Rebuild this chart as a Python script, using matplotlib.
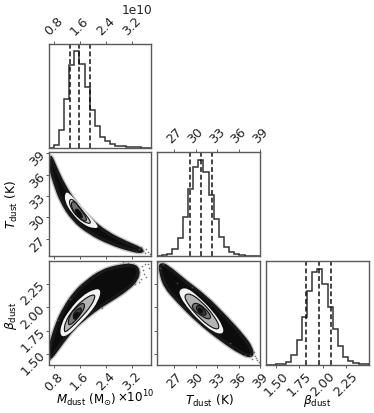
import matplotlib
matplotlib.use("Agg")
import matplotlib.pyplot as plt
import numpy as np
from matplotlib.path import Path
from matplotlib.patches import PathPatch

# ranges
m_range = (0.646, 3.815)
t_range = (24.6, 39.0)
b_range = (1.385, 2.497)
m_ticks = [0.8, 1.6, 2.4, 3.2]
t_ticks = [27, 30, 33, 36, 39]
b_ticks = [1.50, 1.75, 2.00, 2.25]
m_ticklabels = ["0.8", "1.6", "2.4", "3.2"]
t_ticklabels = ["27", "30", "33", "36", "39"]
b_ticklabels = ["1.50", "1.75", "2.00", "2.25"]

# histogram heights
m_hist = [0, 8, 50, 143, 242, 282, 245, 177, 111, 62, 32, 18, 9, 5, 3, 2, 1, 1, 0, 0]
t_hist = [0, 1, 3, 18, 51, 113, 196, 261, 281, 245, 178, 107, 55, 24, 10, 4, 1, 0, 0, 0]
b_hist = [0, 0, 1, 2, 8, 28, 72, 139, 217, 274, 280, 237, 169, 104, 54, 23, 11, 4, 2, 1]
m_quant = [1.298, 1.575, 1.923]
t_quant = [29.17, 30.71, 32.33]
b_quant = [1.82, 1.955, 2.085]

# M-T panel outlines (M / 1e10, T)
mt_outer_x = [0.687, 0.842, 1.099, 1.459, 1.922, 2.436, 3.054, 3.50, 3.52, 3.157, 2.539, 1.922, 1.407, 1.047, 0.842, 0.708]
mt_outer_y = [38.81, 37.17, 34.59, 32.01, 29.67, 27.79, 26.39, 25.55, 25.15, 25.45, 26.39, 27.79, 29.67, 32.25, 34.83, 36.94]
mt_white_x = [1.150, 1.253, 1.510, 1.819, 2.210, 2.076, 1.716, 1.356, 1.150]
mt_white_y = [33.42, 33.56, 32.25, 30.61, 28.73, 28.40, 28.96, 30.61, 32.25]
mt_light_x = [1.274, 1.407, 1.665, 1.973, 1.870, 1.562, 1.325]
mt_light_y = [32.48, 32.58, 31.07, 29.34, 29.06, 29.90, 31.31]
mt_mid_x = [1.335, 1.459, 1.613, 1.840, 1.768, 1.562, 1.377]
mt_mid_y = [32.15, 32.25, 31.31, 29.81, 29.34, 30.14, 31.07]
mt_core_x = [1.459, 1.593, 1.716, 1.613, 1.490]
mt_core_y = [31.22, 31.07, 29.98, 29.98, 30.61]
mt_out_x = [0.66, 0.70, 3.35, 3.50, 3.60, 3.72, 3.76, 3.42, 3.64, 3.55]
mt_out_y = [38.95, 38.3, 25.1, 25.9, 25.0, 25.2, 24.9, 25.6, 25.5, 25.3]

# M-beta panel outlines
mb_outer_x = [0.625, 0.708, 0.914, 1.140, 1.449, 1.809, 2.272, 2.786, 3.25, 3.42, 3.36, 3.10, 2.683, 2.220, 1.809, 1.397, 1.037, 0.780]
mb_outer_y = [1.432, 1.594, 1.828, 1.990, 2.152, 2.271, 2.386, 2.440, 2.455, 2.40, 2.30, 2.206, 2.105, 2.008, 1.900, 1.774, 1.612, 1.486]
mb_white_x = [0.996, 1.037, 1.294, 1.654, 2.066, 2.272, 2.169, 1.912, 1.603, 1.243]
mb_white_y = [1.684, 1.828, 1.972, 2.116, 2.199, 2.188, 2.062, 1.936, 1.828, 1.695]
mb_light_x = [1.119, 1.160, 1.397, 1.706, 2.015, 2.097, 1.943, 1.706, 1.449, 1.222]
mb_light_y = [1.731, 1.846, 1.972, 2.080, 2.141, 2.116, 2.008, 1.911, 1.817, 1.745]
mb_mid_x = [1.243, 1.294, 1.500, 1.706, 1.778, 1.654, 1.500, 1.325]
mb_mid_y = [1.817, 1.918, 1.997, 2.055, 2.008, 1.936, 1.864, 1.810]
mb_dark_x = [1.397, 1.428, 1.603, 1.675, 1.603, 1.469]
mb_dark_y = [1.882, 1.947, 1.997, 1.983, 1.918, 1.864]
mb_core_x = [1.428, 1.449, 1.572, 1.603, 1.500]
mb_core_y = [1.889, 1.936, 1.947, 1.925, 1.882]
mb_out_x = [3.55, 3.62, 3.70, 3.48, 3.42, 3.58, 3.66, 2.95, 3.10, 0.70, 0.95, 1.30, 1.60, 2.30, 3.52, 3.74, 3.30]
mb_out_y = [2.40, 2.46, 2.47, 2.30, 2.27, 2.36, 2.33, 2.485, 2.48, 1.45, 1.86, 2.09, 2.24, 1.99, 2.44, 2.42, 2.25]

# T-beta panel outlines
tb_outer_x = [25.05, 25.95, 28.51, 31.31, 34.11, 36.67, 37.75, 37.95, 36.44, 33.64, 30.38, 27.58, 25.72, 25.10]
tb_outer_y = [2.462, 2.445, 2.278, 2.116, 1.900, 1.684, 1.565, 1.470, 1.504, 1.648, 1.846, 2.062, 2.224, 2.386]
tb_white_x = [27.68, 28.75, 30.38, 32.48, 33.87, 33.87, 32.48, 30.38, 28.75, 27.82]
tb_white_y = [2.188, 2.213, 2.116, 1.954, 1.792, 1.709, 1.731, 1.864, 2.008, 2.116]
tb_light_x = [28.33, 29.21, 30.84, 32.48, 33.41, 32.94, 31.54, 30.15, 28.98]
tb_light_y = [2.127, 2.152, 2.062, 1.918, 1.792, 1.756, 1.817, 1.918, 2.026]
tb_mid_x = [29.45, 30.15, 31.31, 32.24, 31.78, 30.61, 29.68]
tb_mid_y = [2.026, 2.051, 1.990, 1.900, 1.864, 1.918, 1.972]
tb_dark_x = [30.01, 30.61, 31.31, 31.54, 30.84, 30.24]
tb_dark_y = [2.008, 2.026, 1.972, 1.911, 1.918, 1.961]
tb_core_x = [30.38, 30.75, 31.08, 30.75, 30.38]
tb_core_y = [1.990, 1.990, 1.954, 1.936, 1.961]
tb_out_x = [24.8, 25.0, 25.4, 38.5, 38.8, 38.2, 37.6, 37.9, 27.4, 29.5, 34.8, 36.9, 38.6, 38.35]
tb_out_y = [2.49, 2.42, 2.47, 1.46, 1.41, 1.52, 1.49, 1.44, 2.26, 2.22, 1.62, 1.49, 1.43, 1.48]

W, H = 374, 413
fig = plt.figure(figsize=(W / 100, H / 100), dpi=100)
plt.rcParams["mathtext.fontset"] = "dejavusans"
col_px = [(48.5, 151.5), (157, 260), (265.5, 369)]
row_px = [(43.5, 147.5), (152, 255.5), (261, 364.5)]
SPINE = "#5a5a5a"
FS = 9.2
LS = 8.8


def make_ax(r, c):
    x0, x1 = col_px[c]
    y0, y1 = row_px[r]
    ax = fig.add_axes([x0 / W, 1 - y1 / H, (x1 - x0) / W, (y1 - y0) / H])
    for s in ax.spines.values():
        s.set_color(SPINE)
        s.set_linewidth(1.0)
    ax.tick_params(length=2.5, width=0.6, color="#444444", labelsize=FS, pad=1.5, labelcolor="#222222")
    return ax


def smooth(ax, xs, ys, **kw):
    n = len(xs)
    verts = [((xs[-1] + xs[0]) / 2, (ys[-1] + ys[0]) / 2)]
    codes = [Path.MOVETO]
    for i in range(n):
        j = (i + 1) % n
        verts += [(xs[i], ys[i]), ((xs[i] + xs[j]) / 2, (ys[i] + ys[j]) / 2)]
        codes += [Path.CURVE3, Path.CURVE3]
    ax.add_patch(PathPatch(Path(verts, codes), clip_on=True, **kw))


def panel(ax, outer, white, layers, strays, ylim, xlim):
    ax.set_xlim(xlim)
    ax.set_ylim(ylim)
    smooth(ax, *outer, fc="none", ec="#444444", lw=4.5, alpha=0.3)
    smooth(ax, *outer, fc="#0c0c0c", ec="#181818", lw=2.5)
    ax.scatter(*strays, s=1.5, color="#555555", lw=0, alpha=0.8)
    smooth(ax, *white, fc="#f4f4f4", ec="none", lw=0)
    for (lx, ly), col in layers:
        smooth(ax, lx, ly, fc=col, ec="#111111", lw=0.8)


def hist(ax, vals, rng, quant):
    edges = np.linspace(rng[0], rng[1], len(vals) + 1)
    ax.stairs(vals, edges, color="#333333", lw=1.1)
    for q in quant:
        ax.axvline(q, color="#111111", ls=(0, (3.2, 1.8)), lw=1.1)
    ax.set_xlim(rng)
    ax.set_ylim(0, 305)
    ax.set_yticks([])


def top_ticks(ax, ticks, labels):
    ax.xaxis.tick_top()
    ax.set_xticks(ticks)
    ax.set_xticklabels(labels, rotation=45, ha="center", va="bottom")


def bottom_ticks(ax, ticks, labels):
    ax.set_xticks(ticks)
    if labels:
        ax.set_xticklabels(labels, rotation=45, ha="center", va="top")
    else:
        ax.set_xticklabels([])


def left_ticks(ax, ticks, labels):
    ax.set_yticks(ticks)
    if labels:
        ax.set_yticklabels(labels, rotation=45, ha="right", va="center", rotation_mode="anchor")
    else:
        ax.set_yticklabels([])


# diagonal
ax = make_ax(0, 0)
hist(ax, m_hist, m_range, m_quant)
top_ticks(ax, m_ticks, m_ticklabels)
ax = make_ax(1, 1)
hist(ax, t_hist, t_range, t_quant)
top_ticks(ax, t_ticks, t_ticklabels)
ax = make_ax(2, 2)
hist(ax, b_hist, b_range, b_quant)
bottom_ticks(ax, b_ticks, b_ticklabels)

# M-T
ax = make_ax(1, 0)
panel(ax, (mt_outer_x, mt_outer_y), (mt_white_x, mt_white_y),
      [((mt_light_x, mt_light_y), "#c4c4c4"), ((mt_mid_x, mt_mid_y), "#6e6e6e"),
       ((mt_core_x, mt_core_y), "#0c0c0c")], (mt_out_x, mt_out_y), (24.65, 39.2), m_range)
bottom_ticks(ax, m_ticks, None)
left_ticks(ax, t_ticks, t_ticklabels)

# M-beta
ax = make_ax(2, 0)
panel(ax, (mb_outer_x, mb_outer_y), (mb_white_x, mb_white_y),
      [((mb_light_x, mb_light_y), "#b4b4b4"), ((mb_mid_x, mb_mid_y), "#757575"),
       ((mb_dark_x, mb_dark_y), "#3c3c3c"), ((mb_core_x, mb_core_y), "#0c0c0c")],
      (mb_out_x, mb_out_y), b_range, m_range)
bottom_ticks(ax, m_ticks, m_ticklabels)
left_ticks(ax, b_ticks, b_ticklabels)

# T-beta
ax = make_ax(2, 1)
panel(ax, (tb_outer_x, tb_outer_y), (tb_white_x, tb_white_y),
      [((tb_light_x, tb_light_y), "#b4b4b4"), ((tb_mid_x, tb_mid_y), "#757575"),
       ((tb_dark_x, tb_dark_y), "#3c3c3c"), ((tb_core_x, tb_core_y), "#0c0c0c")],
      (tb_out_x, tb_out_y), b_range, t_range)
bottom_ticks(ax, t_ticks, t_ticklabels)
left_ticks(ax, b_ticks, None)

# text
fig.text(137.5 / W, 1 - 10 / H, "1e10", fontsize=8.8, ha="center", va="center", color="#222222")
fig.text(12 / W, 1 - 205 / H, r"$T_{\rm dust}$ (K)", rotation=90, fontsize=LS, ha="center", va="center")
fig.text(11 / W, 1 - 316 / H, r"$\beta_{\rm dust}$", rotation=90, fontsize=LS, ha="center", va="center")
fig.text(116 / W, 1 - 400 / H, r"$M_{\rm dust}$ (M$_{\odot}$)", fontsize=8.6, ha="right", va="center")
fig.text(117 / W, 1 - 397 / H, r"$\times 10^{10}$", fontsize=8.6, ha="left", va="center")
fig.text(209 / W, 1 - 401 / H, r"$T_{\rm dust}$ (K)", fontsize=LS, ha="center", va="center")
fig.text(317 / W, 1 - 401 / H, r"$\beta_{\rm dust}$", fontsize=LS, ha="center", va="center")

fig.savefig("out.png", dpi=100)
